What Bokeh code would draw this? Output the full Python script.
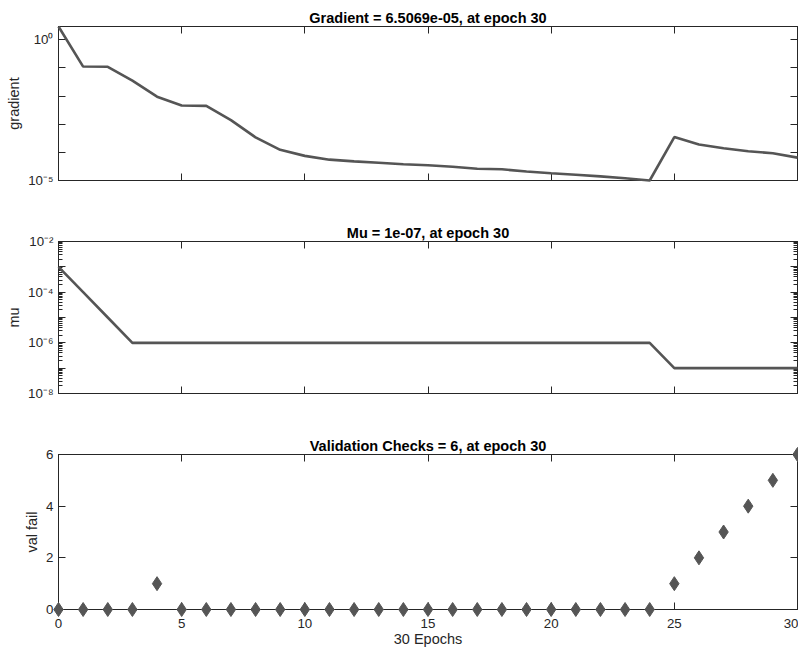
from bokeh.plotting import figure
from bokeh.layouts import column
from bokeh.models import Range1d, FixedTicker, LinearAxis, LogAxis, CustomJSTickFormatter
from bokeh.embed import file_html
from bokeh.resources import INLINE

# ---------------- data ----------------
epochs = [0, 1, 2, 3, 4, 5, 6, 7, 8, 9, 10, 11, 12, 13, 14, 15,
          16, 17, 18, 19, 20, 21, 22, 23, 24, 25, 26, 27, 28, 29, 30]

gradient = [2.97, 0.112, 0.110, 0.0355, 9.5e-3, 4.6e-3, 4.5e-3, 1.4e-3,
            3.4e-4, 1.23e-4, 7.5e-5, 5.5e-5, 4.8e-5, 4.3e-5, 3.8e-5, 3.5e-5,
            3.1e-5, 2.6e-5, 2.5e-5, 2.1e-5, 1.8e-5, 1.6e-5, 1.4e-5, 1.2e-5,
            1.0e-5, 3.5e-4, 1.9e-4, 1.4e-4, 1.1e-4, 9.3e-5, 6.5069e-5]

mu = [1e-3, 1e-4, 1e-5, 1e-6, 1e-6, 1e-6, 1e-6, 1e-6, 1e-6, 1e-6, 1e-6,
      1e-6, 1e-6, 1e-6, 1e-6, 1e-6, 1e-6, 1e-6, 1e-6, 1e-6, 1e-6, 1e-6,
      1e-6, 1e-6, 1e-6, 1e-7, 1e-7, 1e-7, 1e-7, 1e-7, 1e-7]

val_fail = [0, 0, 0, 0, 1, 0, 0, 0, 0, 0, 0, 0, 0, 0, 0, 0,
            0, 0, 0, 0, 0, 0, 0, 0, 0, 1, 2, 3, 4, 5, 6]

titles = ["Gradient = 6.5069e-05, at epoch 30",
          "Mu = 1e-07, at epoch 30",
          "Validation Checks = 6, at epoch 30"]
ylabels = ["gradient", "mu", "val fail"]
xlabel = "30 Epochs"

x_ticks = [0, 5, 10, 15, 20, 25, 30]
grad_exps = [-5, -4, -3, -2, -1, 0]
grad_shown = [0, -5]
mu_exps = [-8, -7, -6, -5, -4, -3, -2]
mu_shown = [-2, -4, -6, -8]
val_ticks = [0, 2, 4, 6]

# ---------------- style ----------------
AX = "#262626"
LINE = "#555555"
FONT = "Liberation Sans"

log_code = """
const e = Math.round(Math.log10(tick));
if (!show.includes(e)) return "";
const sup = {"0":"\u2070","1":"\u00b9","2":"\u00b2","3":"\u00b3","4":"\u2074",
             "5":"\u2075","6":"\u2076","7":"\u2077","8":"\u2078","9":"\u2079","-":"\u207b"};
return "10" + String(e).split("").map(c => sup[c]).join("");
"""
blank_code = "return '';"


def style_axis(ax, labels):
    ax.axis_line_color = AX
    ax.axis_line_width = 1
    ax.major_tick_line_color = AX
    ax.minor_tick_line_color = AX
    ax.major_tick_in = 7
    ax.major_tick_out = 0
    ax.minor_tick_in = 4
    ax.minor_tick_out = 0
    ax.major_label_text_font = FONT
    ax.major_label_text_color = AX
    ax.major_label_text_font_size = "13.3px"
    ax.axis_label_text_font = FONT
    ax.axis_label_text_font_style = "normal"
    ax.axis_label_text_color = AX
    ax.axis_label_text_font_size = "14.5px"
    if not labels:
        ax.formatter = CustomJSTickFormatter(code=blank_code)
        ax.major_label_standoff = 0


def log_ticks(exps):
    minors = []
    for e in exps[:-1]:
        for m in range(2, 10):
            minors.append(m * 10.0 ** e)
    return [10.0 ** e for e in exps], minors


def make_panel(height, top, bottom, title, ylabel, ylog, yticks, yminor,
               ymin, ymax, shown=None, show_x=False):
    p = figure(width=798, height=height, output_backend="svg",
               toolbar_location=None,
               x_range=Range1d(epochs[0], epochs[-1]),
               y_range=Range1d(ymin, ymax),
               y_axis_type="log" if ylog else "linear",
               min_border_left=58, min_border_right=1,
               min_border_top=top, min_border_bottom=bottom)
    p.xgrid.visible = False
    p.ygrid.visible = False
    p.outline_line_color = AX
    p.background_fill_color = "white"
    p.border_fill_color = "white"

    p.title.text = title
    p.title.align = "center"
    p.title.text_font = FONT
    p.title.text_font_style = "bold"
    p.title.text_font_size = "14.5px"
    p.title.text_color = "#000000"
    p.title.standoff = 2

    # left axis
    ya = p.yaxis[0]
    ya.ticker = FixedTicker(ticks=yticks, minor_ticks=yminor)
    style_axis(ya, True)
    ya.axis_label = ylabel
    ya.major_label_standoff = 5
    ya.axis_label_standoff = 3
    if ylog:
        ya.formatter = CustomJSTickFormatter(args=dict(show=shown), code=log_code)

    # bottom axis
    xa = p.xaxis[0]
    xa.ticker = FixedTicker(ticks=x_ticks, minor_ticks=[])
    style_axis(xa, show_x)
    if show_x:
        xa.axis_label = xlabel
        xa.major_label_standoff = 9
        xa.axis_label_standoff = 0

    # box: right and top axes with inward ticks
    ra = LogAxis() if ylog else LinearAxis()
    ra.ticker = FixedTicker(ticks=yticks, minor_ticks=yminor)
    style_axis(ra, False)
    p.add_layout(ra, "right")
    ta = LinearAxis()
    ta.ticker = FixedTicker(ticks=x_ticks, minor_ticks=[])
    style_axis(ta, False)
    p.add_layout(ta, "above")
    return p


g_ticks, _ = log_ticks(grad_exps)
p1 = make_panel(220, 26, 40, titles[0], ylabels[0], True, g_ticks, [],
                min(gradient), max(gradient), shown=grad_shown)
r1 = p1.line(epochs, gradient, line_color=LINE, line_width=2.6)
r1.level = "overlay"

m_ticks, m_minor = log_ticks(mu_exps)
p2 = make_panel(213, 21, 40, titles[1], ylabels[1], True, m_ticks, m_minor,
                10.0 ** mu_exps[0], 10.0 ** mu_exps[-1], shown=mu_shown)
r2 = p2.line(epochs, mu, line_color=LINE, line_width=2.6)
r2.level = "overlay"

p3 = make_panel(217, 21, 41, titles[2], ylabels[2], False, val_ticks, [],
                val_ticks[0], val_ticks[-1], show_x=True)
r3 = p3.scatter(epochs, val_fail, marker="diamond", size=14,
                fill_color=LINE, line_color=LINE)
r3.level = "overlay"

layout = column(p1, p2, p3, spacing=0)
open("out.html", "w").write(file_html(layout, INLINE))
